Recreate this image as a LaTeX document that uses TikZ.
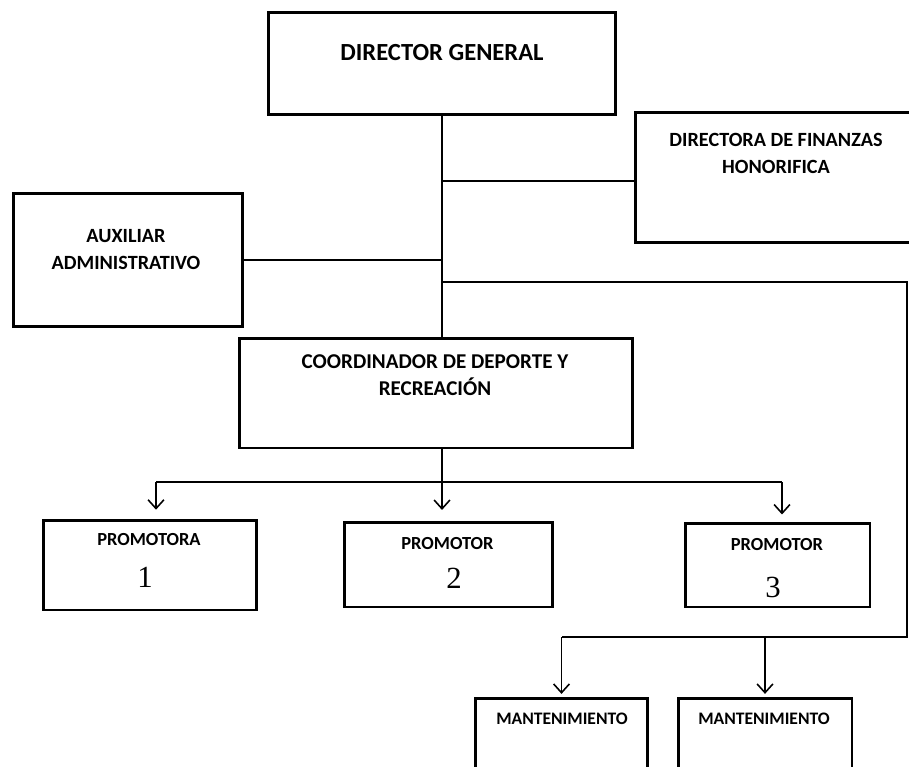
\documentclass[tikz,border=0pt]{standalone}
\usepackage{fontspec}
\setmainfont{Carlito}
\newfontfamily\numfont{Liberation Serif}
\usetikzlibrary{arrows.meta}
\tikzset{>={Straight Barb[length=5pt,width=9pt]}}
\tikzset{
  box/.style  = {draw, line width=1.7pt, inner sep=0pt},
  conn/.style = {line width=0.9pt},
  lbl/.style  = {align=center, inner sep=0pt, font=\bfseries\fontsize{#1}{15}\selectfont},
  num/.style  = {inner sep=0pt, font=\numfont\fontsize{17.5}{20}\selectfont}
}

\begin{document}
\begin{tikzpicture}[x=0.02cm,y=-0.02cm]
  \useasboundingbox (0,0) rectangle (909,767);
  % boxes
  \node[box, minimum width=6.96cm, minimum height=2.06cm] (dg)    at (442,63.5)  {};
  \node[box, minimum width=5.8cm,  minimum height=2.62cm] (fin)   at (780,177.5) {};
  \node[box, minimum width=4.6cm,  minimum height=2.68cm] (aux)   at (128,260)   {};
  \node[box, minimum width=7.88cm, minimum height=2.2cm]  (coord) at (436,393)   {};
  \node[box, minimum width=4.28cm, minimum height=1.8cm]  (p1)    at (150,565)   {};
  \node[box, minimum width=4.18cm, minimum height=1.7cm]  (p2)    at (448.5,564.5) {};
  \node[box, minimum width=3.7cm,  minimum height=1.68cm] (p3)    at (777.5,565) {};
  \node[box, minimum width=3.46cm, minimum height=1.74cm] (m1)    at (561.5,741.5) {};
  \node[box, minimum width=3.48cm, minimum height=1.74cm] (m2)    at (765,741.5) {};
  % texts
  \node[lbl=14]   (dgt)    at (442,53)    {DIRECTOR GENERAL};
  \node[lbl=11.5] (fint)   at (776,153.5) {DIRECTORA DE FINANZAS\\HONORIFICA};
  \node[lbl=11.5] (auxt)   at (126,249.5) {AUXILIAR\\ADMINISTRATIVO};
  \node[lbl=12]   (coordt) at (435,375)   {COORDINADOR DE DEPORTE Y\\RECREACIÓN};
  \node[lbl=10.5] (p1t)    at (149,540)   {PROMOTORA};
  \node[lbl=10.5] (p2t)    at (447.5,544) {PROMOTOR};
  \node[lbl=10.5] (p3t)    at (777,545)   {PROMOTOR};
  \node[num]      (p1n)    at (145,577)   {1};
  \node[num]      (p2n)    at (454,578)   {2};
  \node[num]      (p3n)    at (773,587)   {3};
  \node[lbl=10]   (m1t)    at (562,719)   {MANTENIMIENTO};
  \node[lbl=10]   (m2t)    at (764,719)   {MANTENIMIENTO};
  % connectors
  \coordinate (jf) at (442,181);
  \coordinate (jm) at (442,282);
  \coordinate (rt) at (907,282);
  \coordinate (rb) at (907,637);
  \coordinate (jp) at (442,482);
  \coordinate (pl) at (156,482);
  \coordinate (pr) at (782,482);
  \draw[conn] (dg.south) -- (dg.south |- coord.north);
  \draw[conn] (jf) -- (jf -| fin.west);
  \draw[conn] (aux.east) -- (aux.east -| dg.south);
  \draw[conn] (jm) -- (rt) -- (rb) -- (rb -| m1.north);
  \draw[conn,->,shorten >=1.5pt] (rb -| m1.north) -- (m1.north);
  \draw[conn,->,shorten >=1.5pt] (rb -| m2.north) -- (m2.north);
  \draw[conn] (coord.south -| jp) -- (jp);
  \draw[conn] (pl) -- (pr);
  \draw[conn,->,shorten >=5pt] (pl) -- (pl |- p1.north);
  \draw[conn,->,shorten >=6pt] (jp) -- (jp |- p2.north);
  \draw[conn,->,shorten >=4pt] (pr) -- (pr |- p3.north);
\end{tikzpicture}
\end{document}
